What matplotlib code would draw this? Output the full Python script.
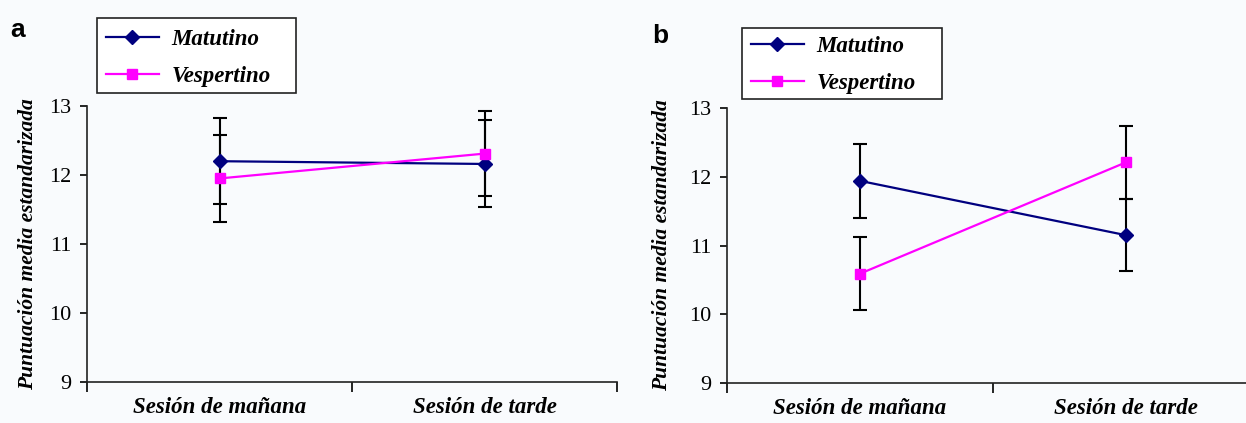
import matplotlib
matplotlib.use("Agg")
import matplotlib.pyplot as plt
from matplotlib.patches import Rectangle

# group means and error bar half-widths, one pair of sessions per panel
sessions = ["Sesión de mañana", "Sesión de tarde"]
groups = ["Matutino", "Vespertino"]

mat_a = [12.20, 12.16]
mat_a_err = [0.62, 0.63]
vesp_a = [11.95, 12.31]
vesp_a_err = [0.63, 0.62]

mat_b = [11.94, 11.15]
mat_b_err = [0.54, 0.52]
vesp_b = [10.59, 12.21]
vesp_b_err = [0.53, 0.53]

yticks = [9, 10, 11, 12, 13]

navy = "#00007f"
magenta = "#ff00ff"
bg = "#f9fbfd"
serif = ["Liberation Serif", "DejaVu Serif"]

plt.rcParams["font.family"] = serif

W, H = 1246, 423
fig = plt.figure(figsize=(W / 100, H / 100), dpi=100, facecolor=bg)


def px(x0, y0, w, h):
    # pixel box (top-left origin) -> figure fraction rect
    return [x0 / W, 1 - (y0 + h) / H, w / W, h / H]


def draw_panel(rect, mat, mat_err, vesp, vesp_err, letter, letter_xy, box, leg_top, ylab_x):
    ax = fig.add_axes(rect)
    ax.set_facecolor(bg)
    xs = [0.5, 1.5]
    ax.errorbar(xs, mat, yerr=mat_err, fmt="none", ecolor="black",
                elinewidth=1.5, capsize=5, capthick=1.5, zorder=2)
    ax.errorbar(xs, vesp, yerr=vesp_err, fmt="none", ecolor="black",
                elinewidth=1.5, capsize=5, capthick=1.5, zorder=2)
    ax.plot(xs, mat, color=navy, marker="D", markersize=7, lw=1.6,
            label=groups[0], zorder=3)
    ax.plot(xs, vesp, color=magenta, marker="s", markersize=7.5, lw=1.6,
            label=groups[1], zorder=3)
    ax.set_xlim(0, 2)
    ax.set_ylim(9, 13)
    ax.set_yticks(yticks)
    ax.set_yticklabels([str(t) for t in yticks], fontsize=16, family=serif)
    ax.set_xticks([0, 1, 2])
    ax.set_xticklabels([])
    ax.set_xticks(xs, minor=True)
    ax.set_xticklabels(sessions, minor=True, fontsize=16.5, family=serif,
                       fontweight="bold", fontstyle="italic")
    ax.tick_params(axis="x", which="major", direction="out", length=7, width=1.2)
    ax.tick_params(axis="x", which="minor", length=0, pad=11)
    ax.tick_params(axis="y", direction="out", length=5, width=1.2, pad=6)
    for side in ("top", "right"):
        ax.spines[side].set_visible(False)
    for side in ("left", "bottom"):
        ax.spines[side].set_linewidth(1.2)
        ax.spines[side].set_color("#222222")
    ax.set_ylabel("Puntuación media estandarizada", fontsize=15.5, family=serif,
                  fontweight="bold", fontstyle="italic")
    ax.yaxis.set_label_coords(ylab_x, 0.5)

    # framed legend box above the plot
    bx, by, bw, bh = box
    fr = px(bx, by, bw, bh)
    fig.patches.append(Rectangle((fr[0], fr[1]), fr[2], fr[3],
                                 transform=fig.transFigure, facecolor="white",
                                 edgecolor="#222222", linewidth=1.2, zorder=1))
    handles, labels = ax.get_legend_handles_labels()
    leg = fig.legend(handles, labels, loc="upper left",
                     bbox_to_anchor=((bx + 2) / W, 1 - leg_top / H),
                     frameon=False, handlelength=2.3, handletextpad=0.55,
                     labelspacing=0.71, borderpad=0.3, borderaxespad=0,
                     prop={"family": serif, "size": 16.5,
                           "weight": "bold", "style": "italic"})
    leg.set_zorder(2)

    fig.text(letter_xy[0] / W, 1 - letter_xy[1] / H, letter, fontsize=19,
             fontweight="bold", family=["Liberation Sans", "DejaVu Sans"],
             ha="left", va="center")
    return ax


draw_panel(px(87, 106, 530, 276), mat_a, mat_a_err, vesp_a, vesp_a_err,
           "a", (10, 30), (97, 18, 199, 75), 22, -0.093)
draw_panel(px(727, 108, 532, 275), mat_b, mat_b_err, vesp_b, vesp_b_err,
           "b", (652, 36), (742, 28, 200, 71), 29, -0.103)

fig.savefig("out.png", dpi=100, facecolor=bg)
